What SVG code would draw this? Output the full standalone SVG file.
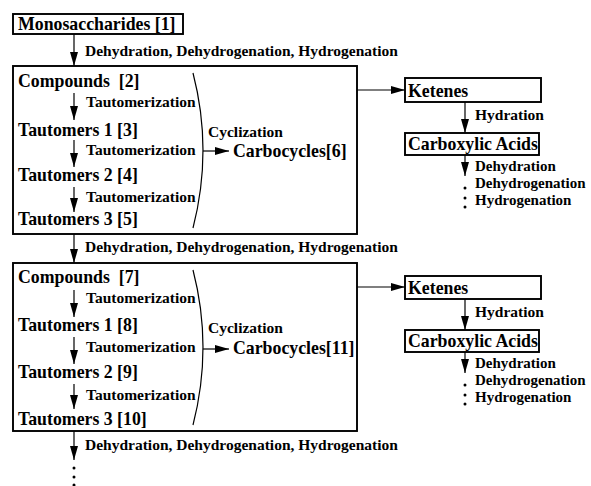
<svg xmlns="http://www.w3.org/2000/svg" width="591" height="486" viewBox="0 0 591 486">
<defs>
<style>
.box{fill:#fff;stroke:#000;stroke-width:1.9}
.ln{fill:none;stroke:#000;stroke-width:1.2}
.arr{fill:none;stroke:#000;stroke-width:1.2;marker-end:url(#ah)}
</style>
<marker id="ah" markerUnits="userSpaceOnUse" markerWidth="14" markerHeight="8" refX="14" refY="4" orient="auto">
<path d="M0,0 L14,4 L0,8 Z" fill="#000"/>
</marker>
</defs>
<rect width="591" height="486" fill="#fff"/>

<g id="connectors">
<path class="arr" d="M74,34 V66"/>
<text font-family="Liberation Serif, serif" font-weight="bold" font-size="15.5" x="85" y="56">Dehydration, Dehydrogenation, Hydrogenation</text>
<path class="arr" d="M74,234 V263"/>
<text font-family="Liberation Serif, serif" font-weight="bold" font-size="15.5" x="85" y="252">Dehydration, Dehydrogenation, Hydrogenation</text>
<path class="arr" d="M74,431 V460"/>
<text font-family="Liberation Serif, serif" font-weight="bold" font-size="15.5" x="85" y="450">Dehydration, Dehydrogenation, Hydrogenation</text>
<circle cx="74" cy="468" r="1.5"/>
<circle cx="74" cy="477" r="1.5"/>
<circle cx="74" cy="485" r="1.5"/>
<path class="arr" d="M357,90 H405"/>
<path class="arr" d="M357,287 H405"/>
</g>

<g id="monosaccharides">
<rect class="box" x="13" y="14" width="170" height="20"/>
<text font-family="Liberation Serif, serif" font-weight="bold" font-size="17.8" x="18" y="30">Monosaccharides [1]</text>
</g>

<g id="stage1">
<rect class="box" x="13" y="66" width="344" height="168"/>
<text font-family="Liberation Serif, serif" font-weight="bold" font-size="17.8" x="18" y="87" xml:space="preserve">Compounds  [2]</text>
<path class="arr" d="M74,93 V120"/>
<text font-family="Liberation Serif, serif" font-weight="bold" font-size="15.5" x="86" y="107">Tautomerization</text>
<text font-family="Liberation Serif, serif" font-weight="bold" font-size="17.8" x="18" y="136">Tautomers 1 [3]</text>
<path class="arr" d="M74,140 V167"/>
<text font-family="Liberation Serif, serif" font-weight="bold" font-size="15.5" x="86" y="155">Tautomerization</text>
<text font-family="Liberation Serif, serif" font-weight="bold" font-size="17.8" x="18" y="181">Tautomers 2 [4]</text>
<path class="arr" d="M74,187 V212"/>
<text font-family="Liberation Serif, serif" font-weight="bold" font-size="15.5" x="86" y="202">Tautomerization</text>
<text font-family="Liberation Serif, serif" font-weight="bold" font-size="17.8" x="18" y="225">Tautomers 3 [5]</text>
<path class="ln" d="M193,73 Q213,150 193,228"/>
<text font-family="Liberation Serif, serif" font-weight="bold" font-size="15.5" x="208" y="137">Cyclization</text>
<path class="arr" d="M203,151 H229"/>
<text font-family="Liberation Serif, serif" font-weight="bold" font-size="17.8" x="233" y="157">Carbocycles[6]</text>
</g>

<g id="ketenes1">
<rect class="box" x="405" y="78" width="136" height="24"/>
<text font-family="Liberation Serif, serif" font-weight="bold" font-size="17.8" x="408" y="97">Ketenes</text>
<path class="arr" d="M465,102 V133"/>
<text font-family="Liberation Serif, serif" font-weight="bold" font-size="15.5" x="475" y="120">Hydration</text>
</g>
<g id="acids1">
<rect class="box" x="405" y="133" width="134" height="22"/>
<text font-family="Liberation Serif, serif" font-weight="bold" font-size="17.8" x="408" y="150">Carboxylic Acids</text>
<path class="arr" d="M465,155 V176"/>
<circle cx="465" cy="188" r="1.5"/>
<circle cx="465" cy="198" r="1.5"/>
<circle cx="465" cy="207" r="1.5"/>
<text font-family="Liberation Serif, serif" font-weight="bold" font-size="15" x="475" y="170.5">Dehydration</text>
<text font-family="Liberation Serif, serif" font-weight="bold" font-size="15" x="475" y="187.5">Dehydrogenation</text>
<text font-family="Liberation Serif, serif" font-weight="bold" font-size="15" x="475" y="204.5">Hydrogenation</text>
</g>

<g id="stage2">
<rect class="box" x="13" y="263" width="344" height="168"/>
<text font-family="Liberation Serif, serif" font-weight="bold" font-size="17.8" x="18" y="283" xml:space="preserve">Compounds  [7]</text>
<path class="arr" d="M74,290 V317"/>
<text font-family="Liberation Serif, serif" font-weight="bold" font-size="15.5" x="86" y="303">Tautomerization</text>
<text font-family="Liberation Serif, serif" font-weight="bold" font-size="17.8" x="18" y="331">Tautomers 1 [8]</text>
<path class="arr" d="M74,337 V364"/>
<text font-family="Liberation Serif, serif" font-weight="bold" font-size="15.5" x="86" y="352">Tautomerization</text>
<text font-family="Liberation Serif, serif" font-weight="bold" font-size="17.8" x="18" y="378">Tautomers 2 [9]</text>
<path class="arr" d="M74,384 V409"/>
<text font-family="Liberation Serif, serif" font-weight="bold" font-size="15.5" x="86" y="400">Tautomerization</text>
<text font-family="Liberation Serif, serif" font-weight="bold" font-size="17.8" x="18" y="425">Tautomers 3 [10]</text>
<path class="ln" d="M193,270 Q213,347 193,425"/>
<text font-family="Liberation Serif, serif" font-weight="bold" font-size="15.5" x="208" y="333">Cyclization</text>
<path class="arr" d="M203,349 H229"/>
<text font-family="Liberation Serif, serif" font-weight="bold" font-size="17.8" x="233" y="354">Carbocycles[11]</text>
</g>

<g id="ketenes2">
<rect class="box" x="405" y="276" width="136" height="23"/>
<text font-family="Liberation Serif, serif" font-weight="bold" font-size="17.8" x="408" y="294">Ketenes</text>
<path class="arr" d="M465,299 V330"/>
<text font-family="Liberation Serif, serif" font-weight="bold" font-size="15.5" x="475" y="317">Hydration</text>
</g>
<g id="acids2">
<rect class="box" x="405" y="330" width="134" height="22"/>
<text font-family="Liberation Serif, serif" font-weight="bold" font-size="17.8" x="408" y="347">Carboxylic Acids</text>
<path class="arr" d="M465,352 V373"/>
<circle cx="465" cy="385" r="1.5"/>
<circle cx="465" cy="395" r="1.5"/>
<circle cx="465" cy="404" r="1.5"/>
<text font-family="Liberation Serif, serif" font-weight="bold" font-size="15" x="475" y="367.5">Dehydration</text>
<text font-family="Liberation Serif, serif" font-weight="bold" font-size="15" x="475" y="384.5">Dehydrogenation</text>
<text font-family="Liberation Serif, serif" font-weight="bold" font-size="15" x="475" y="401.5">Hydrogenation</text>
</g>
</svg>
